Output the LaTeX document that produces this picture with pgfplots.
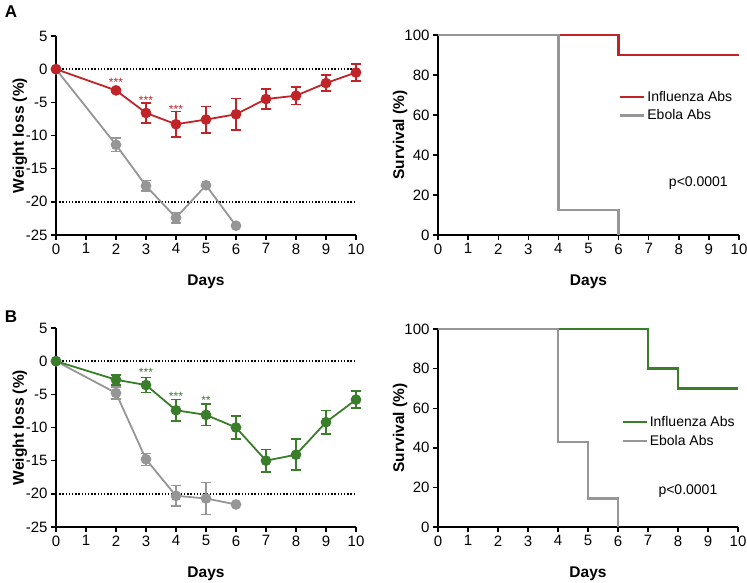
\documentclass[border=0pt]{standalone}
\usepackage{fontspec}
\setmainfont{Liberation Sans}
\usepackage{pgfplots}
\pgfplotsset{compat=1.18}

\definecolor{infred}{RGB}{192,35,40}
\definecolor{infgreen}{RGB}{58,125,42}
\definecolor{ebgray}{RGB}{150,150,150}

\newcommand{\fs}[1]{\fontsize{#1}{#1}\selectfont}

\tikzset{
  stars/.style={font=\fs{12}, anchor=base, yshift=-6.5pt},
  guide/.style={black, line width=1.4pt, dash pattern=on 1.4pt off 1.8pt},
}

\pgfplotsset{
  panel/.style={
    scale only axis, clip=false,
    axis lines*=left,
    axis line style={line width=1.6pt, black},
    tick align=outside, major tick length=5pt,
    tick style={line width=1.4pt, black},
    xmin=0, xmax=10, xtick={0,...,10},
    tick label style={font=\fs{15}},
    label style={font=\bfseries\fs{15.5}},
    xlabel={Days},
    xlabel style={at={(axis description cs:0.5,-0.236)}, anchor=center},
    /pgf/number format/assume math mode=true,
  },
  wl/.style={panel, width=300pt, height=199pt,
    ymin=-25, ymax=5, ytick={-25,-20,...,5},
    ylabel={Weight loss (\%)},
    ylabel style={at={(axis description cs:-0.12,0.5)}, anchor=center}},
  sv/.style={panel, width=301pt, height=200pt,
    ymin=0, ymax=100, ytick={0,20,...,100},
    ylabel={Survival (\%)},
    ylabel style={at={(axis description cs:-0.126,0.5)}, anchor=center},
    legend style={draw=none, fill=none, font=\fs{14}, row sep=3pt,
      legend cell align=left},
    legend image code/.code={\draw[line width=2.6pt] (0pt,0pt) -- (24pt,0pt);}},
  wtline/.style={line width=1.8pt, mark=*, mark size=4.4pt,
    mark options={solid},
    error bars/.cd, y dir=both, y explicit,
    error bar style={line width=1.6pt},
    error mark options={rotate=90, line width=1.6pt, mark size=5pt}},
}

\begin{document}
\begin{tikzpicture}
\useasboundingbox (0pt,0pt) rectangle (747pt,582pt);

\node[font=\bfseries\fs{17}] at (11pt,570pt) {A};
\node[font=\bfseries\fs{17}] at (11pt,265pt) {B};

% A: weight loss
\begin{axis}[wl, at={(56pt,347pt)}, anchor=south west]
\addplot[guide] coordinates {(0,0) (10,0)};
\addplot[guide] coordinates {(0,-20) (10,-20)};
\addplot[ebgray, wtline] coordinates {
  (0,0) +- (0,0)
  (2,-11.4) +- (0,1.0)
  (3,-17.6) +- (0,0.8)
  (4,-22.4) +- (0,0.8)
  (5,-17.5) +- (0,0)
  (6,-23.6) +- (0,0)
};
\addplot[infred, wtline] coordinates {
  (0,0) +- (0,0)
  (2,-3.2) +- (0,0.3)
  (3,-6.6) +- (0,1.5)
  (4,-8.3) +- (0,1.9)
  (5,-7.6) +- (0,2.0)
  (6,-6.8) +- (0,2.4)
  (7,-4.5) +- (0,1.55)
  (8,-4.0) +- (0,1.3)
  (9,-2.1) +- (0,1.2)
  (10,-0.5) +- (0,1.25)
};
\node[stars, infred] at (axis cs:2,-1.7) {***};
\node[stars, infred] at (axis cs:3,-4.4) {***};
\node[stars, infred] at (axis cs:4,-5.65) {***};
\end{axis}

% A: survival
\begin{axis}[sv, at={(438pt,347pt)}, anchor=south west,
  legend style={at={(axis cs:5.9,74)}, anchor=north west}]
\addplot[infred, line width=2.6pt] coordinates {(0,100) (6,100) (6,90) (10,90)};
\addplot[ebgray, line width=2.6pt] coordinates {(0,100) (4,100) (4,12.5) (6,12.5) (6,0)};
\legend{Influenza Abs, Ebola Abs}
\node[font=\fs{14}] at (axis cs:8.65,26) {p<0.0001};
\end{axis}

% B: weight loss
\begin{axis}[wl, at={(56pt,55pt)}, anchor=south west]
\addplot[guide] coordinates {(0,0) (10,0)};
\addplot[guide] coordinates {(0,-20) (10,-20)};
\addplot[ebgray, wtline] coordinates {
  (0,0) +- (0,0)
  (2,-4.8) +- (0,0.9)
  (3,-14.8) +- (0,0.9)
  (4,-20.3) +- (0,1.55)
  (5,-20.7) +- (0,2.4)
  (6,-21.6) +- (0,0)
};
\addplot[infgreen, wtline] coordinates {
  (0,0) +- (0,0)
  (2,-2.8) +- (0,0.75)
  (3,-3.6) +- (0,1.15)
  (4,-7.4) +- (0,1.6)
  (5,-8.1) +- (0,1.6)
  (6,-10.0) +- (0,1.75)
  (7,-15.0) +- (0,1.7)
  (8,-14.1) +- (0,2.35)
  (9,-9.2) +- (0,1.75)
  (10,-5.8) +- (0,1.3)
};
\node[stars, infgreen] at (axis cs:3,-1.36) {***};
\node[stars, infgreen] at (axis cs:4,-4.96) {***};
\node[stars, infgreen] at (axis cs:5,-5.6) {**};
\end{axis}

% B: survival
\begin{axis}[sv, at={(438pt,55pt)}, anchor=south west, width=300pt, height=198pt,
  legend style={at={(axis cs:6.0,58)}, anchor=north west}]
\addplot[infgreen, line width=2.6pt] coordinates {(0,100) (7,100) (7,80) (8,80) (8,70) (10,70)};
\addplot[ebgray, line width=2.6pt] coordinates {(0,100) (4,100) (4,42.9) (5,42.9) (5,14.3) (6,14.3) (6,0)};
\legend{Influenza Abs, Ebola Abs}
\node[font=\fs{14}] at (axis cs:8.33,18) {p<0.0001};
\end{axis}
\end{tikzpicture}
\end{document}
